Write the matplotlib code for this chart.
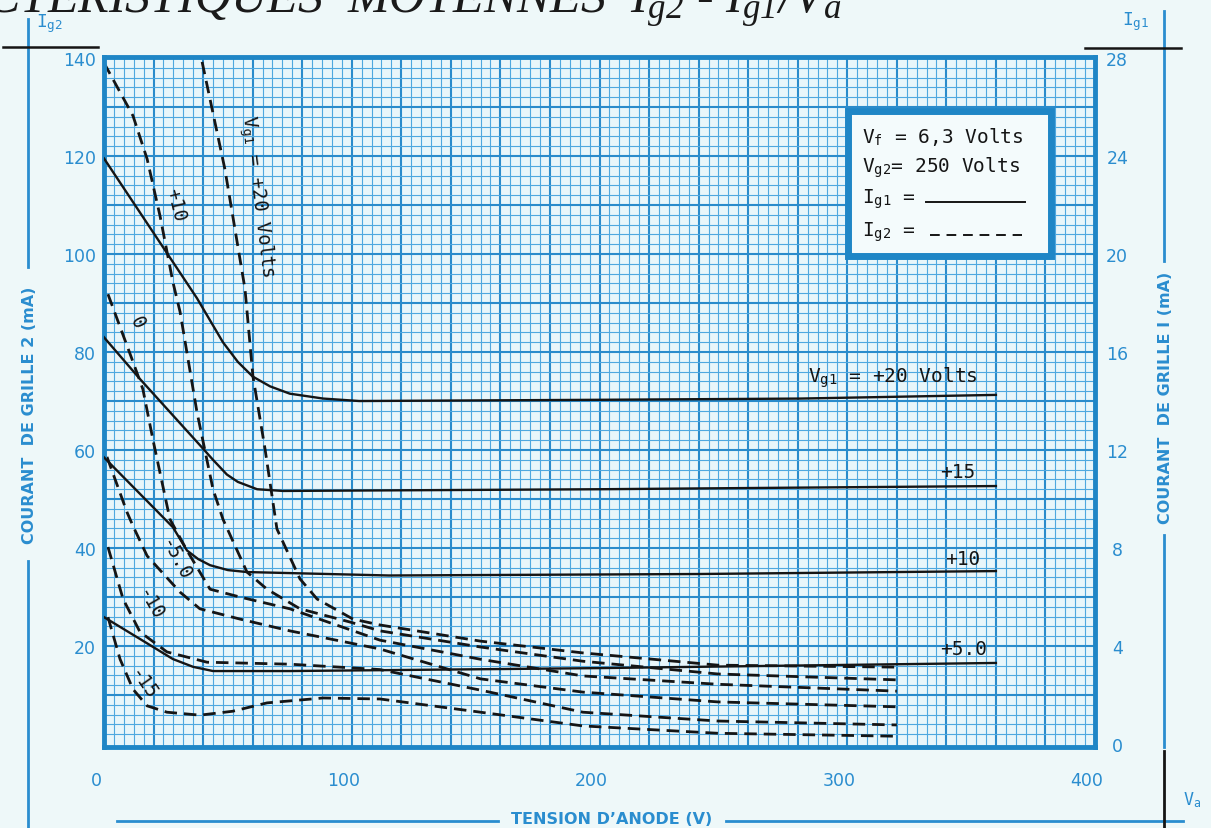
import numpy as np
import matplotlib
matplotlib.use("Agg")
import matplotlib.pyplot as plt
from matplotlib.patches import Rectangle
from matplotlib.lines import Line2D
from matplotlib.transforms import ScaledTranslation

plt.rcParams['mathtext.fontset'] = 'custom'
plt.rcParams['mathtext.it'] = 'Liberation Serif:italic'
plt.rcParams['mathtext.rm'] = 'Liberation Serif:italic'
plt.rcParams['mathtext.tt'] = 'DejaVu Sans Mono'

# ---------------- data ----------------
x_ticks = [0, 100, 200, 300, 400]
left_ticks = [20, 40, 60, 80, 100, 120, 140]
right_ticks = [0, 4, 8, 12, 16, 20, 24, 28]

# Ig1 (solid, right axis, mA) versus anode voltage (V)
va_ig1_p20 = [0, 37.5, 48, 54, 60, 67, 75, 88.5, 103, 200, 281, 360]
ig1_p20 = [23.9, 18.2, 16.4, 15.6, 15.0, 14.6, 14.3, 14.1, 14.0, 14.05, 14.1, 14.25]
va_ig1_p15 = [0, 14.5, 38.7, 44, 49.6, 54, 61.8, 72.2, 200, 360]
ig1_p15 = [16.6, 14.9, 12.2, 11.6, 11.0, 10.7, 10.4, 10.33, 10.4, 10.53]
va_ig1_p10 = [0, 27.8, 33.5, 38, 42.8, 50, 57.7, 115, 240, 360]
ig1_p10 = [11.7, 8.85, 7.9, 7.55, 7.3, 7.1, 7.02, 6.88, 6.94, 7.06]
va_ig1_p5 = [0, 14.5, 27.8, 36, 44, 75, 200, 360]
ig1_p5 = [5.18, 4.29, 3.47, 3.15, 2.98, 2.98, 3.10, 3.31]

# Ig2 (dashed, left axis, mA) versus anode voltage (V)
va_ig2_p20 = [39.6, 48.8, 56.9, 60.1, 65.0, 69.8, 79.1, 86.0, 100.5, 111.4, 152, 193.3, 247.8, 320]
ig2_p20 = [139.2, 117.3, 92.9, 75.1, 60.2, 43.9, 33.7, 29.6, 25.5, 24.3, 21.0, 18.6, 16.1, 15.7]
va_ig2_p10 = [0, 11.7, 17.4, 22.6, 27.8, 30.7, 37.5, 44, 48, 57.7, 65.8, 79.1, 99.3, 111.4, 152, 193.3, 247.8, 320]
ig2_p10 = [139.0, 128.2, 119.4, 107.8, 94.3, 88.2, 67.8, 52.0, 45.9, 35.1, 31.6, 27.6, 24.9, 23.1, 19.8, 16.9, 14.3, 13.1]
va_ig2_0 = [1.6, 11.7, 15.7, 19.8, 26.6, 33.5, 42.8, 54.9, 75, 111.4, 152, 193.3, 247.8, 320]
ig2_0 = [91.8, 78.0, 72.4, 62.0, 45.9, 39.5, 31.6, 30.0, 27.6, 21.2, 17.3, 13.9, 12.2, 10.8]
va_ig2_m5 = [1.2, 9.3, 11.7, 17.4, 30.7, 38.7, 54.9, 75, 111.4, 152, 193.3, 247.8, 320]
ig2_m5 = [58.6, 47.3, 44.5, 38.4, 31.0, 27.6, 25.5, 23.1, 19.4, 13.3, 10.6, 8.6, 7.6]
va_ig2_m10 = [1.6, 7.7, 14.5, 25.4, 41.6, 75, 111.4, 152, 193.3, 247.8, 320]
ig2_m10 = [40.2, 29.6, 22.9, 18.8, 16.7, 16.3, 15.2, 11.0, 6.5, 4.7, 3.9]
va_ig2_m15 = [1.6, 6.5, 11.7, 17.4, 25.4, 38.7, 52, 65.8, 88.4, 111.4, 152, 193.3, 247.8, 320]
ig2_m15 = [25.9, 17.3, 11.2, 7.8, 6.5, 5.9, 6.7, 8.4, 9.4, 9.2, 6.5, 3.7, 2.2, 1.6]

# ---------------- style ----------------
W, H = 1211, 829
PAGE = '#EEF8F9'
CELL = '#E9F6FA'
BLUE = '#2A8DCF'
GRID_MINOR = '#4FA8DF'
GRID_MAJOR = '#2A8BCB'
INK = '#151515'
MONO = 'DejaVu Sans Mono'

fig = plt.figure(figsize=(W / 100, H / 100), dpi=100)
fig.patch.set_facecolor(PAGE)


def fpx(x, y):
    return x / W, 1 - y / H


def ftext(x, y, s, **kw):
    fx, fy = fpx(x, y)
    return fig.text(fx, fy, s, **kw)


def fline(xs, ys, **kw):
    fxs = [x / W for x in xs]
    fys = [1 - y / H for y in ys]
    fig.add_artist(Line2D(fxs, fys, transform=fig.transFigure, **kw))


l, b = fpx(104, 748)
r, t = fpx(1095, 58)
ax = fig.add_axes([l, b, r - l, t - b])
ax.set_facecolor(CELL)
ax.set_xlim(0, 400)
ax.set_ylim(-0.6, 140.2)

# graph-paper grid
for v in np.arange(4, 400, 4):
    major = (v % 20 == 0)
    ax.axvline(v, color=GRID_MAJOR if major else GRID_MINOR,
               lw=1.5 if major else 0.8, zorder=1)
for i in np.arange(2, 140.1, 2):
    major = (i % 10 == 0)
    ax.axhline(i, color=GRID_MAJOR if major else GRID_MINOR,
               lw=1.5 if major else 0.8, zorder=1)

for sp in ax.spines.values():
    sp.set_color('#1F86C6')
    sp.set_linewidth(3.5)
    sp.set_zorder(5)

ax.set_xticks(x_ticks)
ax.set_xticklabels([str(v) for v in x_ticks])
ax.set_yticks(left_ticks)
ax.set_yticklabels([str(v) for v in left_ticks])
ax.tick_params(axis='x', length=0, pad=17, labelsize=12.5, labelcolor=BLUE)
ax.tick_params(axis='y', length=0, pad=6, labelsize=12.5, labelcolor=BLUE)
shift = ScaledTranslation(-8 / 100, 0, fig.dpi_scale_trans)
for lab in ax.get_xticklabels():
    lab.set_transform(lab.get_transform() + shift)

ax2 = ax.twinx()
ax2.set_ylim(-0.12, 28.04)
ax2.set_yticks(right_ticks)
ax2.set_yticklabels([str(v) for v in right_ticks])
ax2.tick_params(axis='y', length=0, pad=16, labelsize=12.5, labelcolor=BLUE)
for lab in ax2.get_yticklabels():
    lab.set_ha('center')
for sp in ax2.spines.values():
    sp.set_visible(False)

# Ig1 solid curves (right axis)
for xs, ys in [(va_ig1_p20, ig1_p20), (va_ig1_p15, ig1_p15),
               (va_ig1_p10, ig1_p10), (va_ig1_p5, ig1_p5)]:
    ax2.plot(xs, ys, color=INK, lw=1.7, solid_joinstyle='round', zorder=4)

# Ig2 dashed curves (left axis)
for xs, ys in [(va_ig2_p20, ig2_p20), (va_ig2_p10, ig2_p10), (va_ig2_0, ig2_0),
               (va_ig2_m5, ig2_m5), (va_ig2_m10, ig2_m10), (va_ig2_m15, ig2_m15)]:
    ax.plot(xs, ys, color=INK, lw=2.0, ls=(0, (4.5, 2.5)), zorder=4)

# labels on the dashed curves
lab_kw = dict(family=MONO, fontsize=13.5, color=INK, ha='center', va='center',
              rotation_mode='anchor', zorder=6)
ax.text(61.8, 112, r'V$_\mathtt{g1}$ = +20 Volts', rotation=-83, **lab_kw)
ax.text(29.1, 110.2, '+10', rotation=-76, **lab_kw)
ax.text(13.3, 86.1, '0', rotation=-65, **lab_kw)
ax.text(28.7, 37.8, '-5.0', rotation=-62, **lab_kw)
ax.text(18.6, 28.6, '-10', rotation=-60, **lab_kw)
ax.text(15.7, 12.4, '-15', rotation=-55, **lab_kw)

# labels on the solid curves
sl_kw = dict(family=MONO, fontsize=14, color=INK, ha='left', va='baseline', zorder=6)
ax.text(284, 74.1, r'V$_\mathtt{g1}$ = +20 Volts', **sl_kw)
ax.text(337.4, 54.5, '+15', **sl_kw)
ax.text(339.5, 36.7, '+10', **sl_kw)
ax.text(337.4, 18.4, '+5.0', **sl_kw)

# legend box
bx0, by0 = fpx(848, 257)
bx1, by1 = fpx(1051, 112)
fig.add_artist(Rectangle((bx0, by0), bx1 - bx0, by1 - by0, transform=fig.transFigure,
                         facecolor='#F4FBFC', edgecolor='#1F86C6', lw=5, zorder=7))
lg_kw = dict(family=MONO, fontsize=14, color=INK, ha='left', va='baseline', zorder=8)
ftext(862, 143, r'V$_\mathtt{f}$ = 6,3 Volts', **lg_kw)
ftext(862, 172, r'V$_\mathtt{g2}$= 250 Volts', **lg_kw)
ftext(862, 203, r'I$_\mathtt{g1}$ =', **lg_kw)
ftext(862, 236, r'I$_\mathtt{g2}$ =', **lg_kw)
fline([926, 1025], [203, 203], color=INK, lw=1.4, zorder=9)
fline([930, 1022], [236, 236], color=INK, lw=1.4, ls=(0, (5, 3.5)), zorder=9)

# ---------------- outer decorations ----------------
ftext(-14, 13, 'CTERISTIQUES  MOYENNES  I$_{g2}$ - I$_{g1}$/V$_{a}$',
      family='Liberation Serif', style='italic', fontsize=36, color='#1a1a1a',
      ha='left', va='baseline')

out_kw = dict(family=MONO, fontsize=13, color=BLUE, ha='left', va='baseline')

# left axis title
fline([28, 28], [20, 268], color=BLUE, lw=2.0)
fline([28, 28], [562, 829], color=BLUE, lw=2.0)
ftext(30, 415, 'COURANT  DE GRILLE 2 (mA)', family='DejaVu Sans', weight='bold',
      fontsize=11.5, color=BLUE, rotation=90, ha='center', va='center')
ftext(36, 27, r'I$_\mathtt{g2}$', **out_kw)
fline([3, 98], [48, 48], color=INK, lw=1.8)

# right axis title
fline([1164, 1164], [12, 262], color=BLUE, lw=2.0)
fline([1164, 1164], [536, 748], color=BLUE, lw=2.0)
ftext(1166, 398, 'COURANT  DE GRILLE I (mA)', family='DejaVu Sans', weight='bold',
      fontsize=11.5, color=BLUE, rotation=90, ha='center', va='center')
ftext(1122, 25, r'I$_\mathtt{g1}$', **out_kw)
fline([1085, 1181], [49, 49], color=INK, lw=1.8)

# bottom axis title
fline([117, 498], [822, 822], color=BLUE, lw=2.0)
fline([726, 1183], [822, 822], color=BLUE, lw=2.0)
ftext(612, 820, 'TENSION D\u2019ANODE (V)', family='DejaVu Sans', weight='bold',
      fontsize=11.5, color=BLUE, ha='center', va='center')
fline([1164, 1164], [752, 829], color=INK, lw=2.0)
ftext(1183, 806, r'V$_\mathtt{a}$', family=MONO, fontsize=12, color=BLUE,
      ha='left', va='baseline')

fig.savefig('out.png', dpi=100, facecolor=PAGE)
